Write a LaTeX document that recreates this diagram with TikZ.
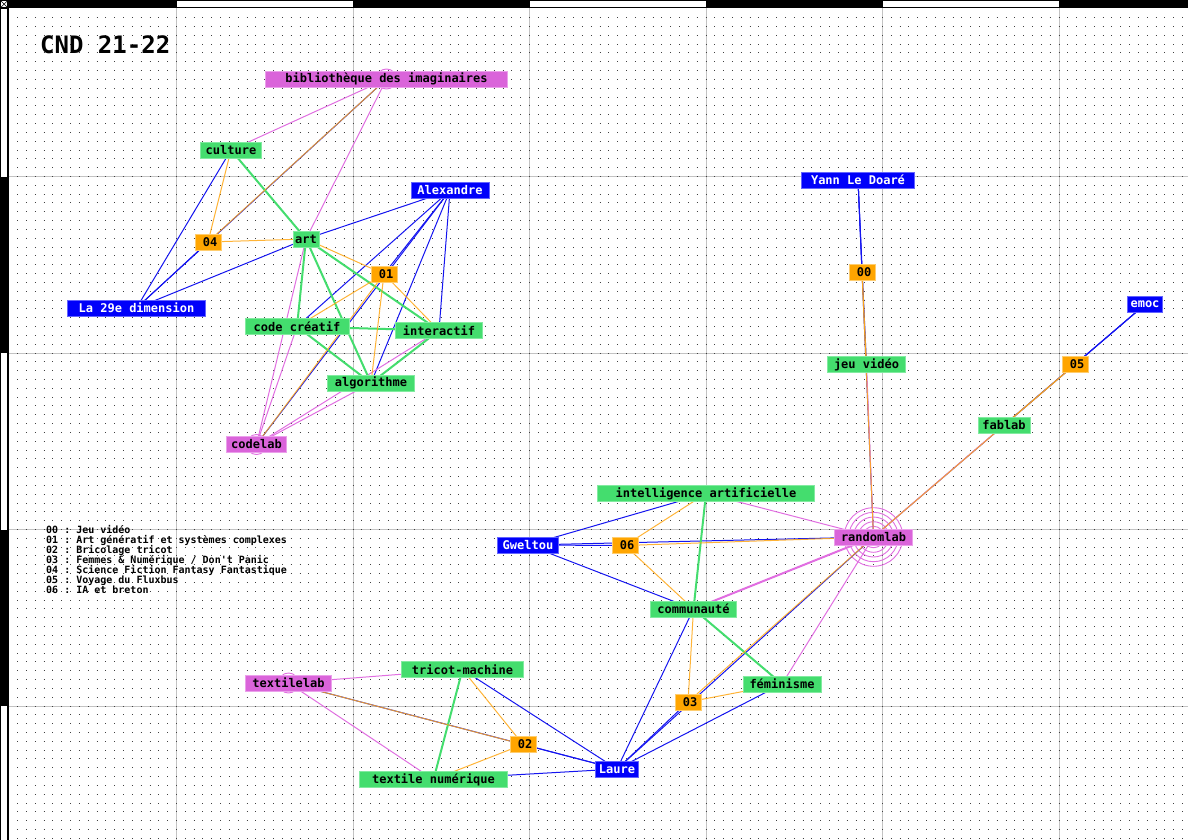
\documentclass[tikz,border=0pt]{standalone}
\usepackage{fontspec}
\setmonofont{DejaVu Sans Mono}
\definecolor{kwgreen}{RGB}{68,221,110}
\definecolor{kwgreenL}{RGB}{130,235,160}
\definecolor{pblue}{RGB}{0,0,250}
\definecolor{pblueL}{RGB}{100,100,255}
\definecolor{lmag}{RGB}{218,100,218}
\definecolor{lmagL}{RGB}{235,160,235}
\definecolor{eorange}{RGB}{255,165,0}
\definecolor{eorangeL}{RGB}{255,205,110}
\definecolor{eblue}{RGB}{20,20,240}
\definecolor{emag}{RGB}{225,110,225}
\definecolor{eorg}{RGB}{255,168,20}
\definecolor{gridgray}{RGB}{195,195,195}
\pgfdeclarelayer{grid}
\pgfdeclarelayer{edges}
\pgfsetlayers{grid,edges,main}
\newcommand{\evlabel}[1]{\hspace*{4pt}#1}
\tikzset{
  lab/.style={font=\ttfamily\bfseries\fontsize{12}{14}\selectfont, inner sep=0pt,
    minimum height=16pt, minimum width=#1*8.67pt, line width=0.8pt},
  kw/.style={lab=#1, fill=kwgreen, draw=kwgreenL, text=black},
  pers/.style={lab=#1, fill=pblue, draw=pblueL, text=white},
  lieu/.style={lab=#1, fill=lmag, draw=lmagL, text=black},
  evt/.style={lab=3, fill=eorange, draw=eorangeL, text=black},
  pe/.style={draw=eblue, line width=1pt},
  le/.style={draw=emag, line width=1pt},
  ke/.style={draw=kwgreen, line width=2pt},
  ee/.style={draw=eorg, line width=1pt, opacity=0.85},
  ring/.style={draw=emag, line width=0.9pt},
  dotrow/.style={draw=black!75, line width=1pt, dash pattern=on 1pt off 7.825pt},
  legend/.style={font=\ttfamily\bfseries\fontsize{10}{10}\selectfont, inner sep=0pt, anchor=base west},
}
\begin{document}
\begin{tikzpicture}[x=1pt,y=-1pt]
\useasboundingbox (0,0) rectangle (1188,840);

% ---------- sheet: grid, dots, rulers ----------
\begin{pgfonlayer}{grid}
\fill[white] (0,0) rectangle (1188,840);
\foreach \g in {1,...,6}
  \draw[gridgray, line width=1pt] ({\g*176.5},8) -- ({\g*176.5},840);
\foreach \g in {1,...,4}
  \draw[gridgray, line width=1pt] (8,{\g*176.5}) -- (1188,{\g*176.5});
\foreach \k in {2,...,95}
  \draw[dotrow] (17.15,{\k*8.825}) -- (1188,{\k*8.825});
% rulers
\fill[black] (0,0) rectangle (1188,8.5);
\fill[black] (0,0) rectangle (8.5,840);
\foreach \a/\b in {176.5/353,529.5/706,882.5/1059}
  \fill[white] (\a,1) rectangle (\b,7.3);
\foreach \a/\b in {9.5/176.5,353/529.5,706/841}
  \fill[white] (1,\a) rectangle (7.3,\b);
\fill[white] (1,1) rectangle (7.3,7.3);
\draw[black, line width=0.5pt] (1,1) -- (7.3,7.3) (1,7.3) -- (7.3,1);
\end{pgfonlayer}

% ---------- title and legend ----------
\node[font=\ttfamily\bfseries\fontsize{24}{26}\selectfont, inner sep=0pt, anchor=base west] (title) at (40,54) {CND 21-22};
\node[legend] (leg0) at (46,533.5) {00 : Jeu vidéo};
\node[legend] (leg1) at (46,543.5) {01 : Art génératif et systèmes complexes};
\node[legend] (leg2) at (46,553.5) {02 : Bricolage tricot};
\node[legend] (leg3) at (46,563.5) {03 : Femmes \& Numérique / Don't Panic};
\node[legend] (leg4) at (46,573.5) {04 : Science Fiction Fantasy Fantastique};
\node[legend] (leg5) at (46,583.5) {05 : Voyage du Fluxbus};
\node[legend] (leg6) at (46,593.5) {06 : IA et breton};

% ---------- nodes ----------
\node[lieu=28] (bib) at (386.5,79) {bibliothèque des imaginaires};
\node[kw=7] (culture) at (231,150) {culture};
\node[pers=9] (alex) at (450,190.5) {Alexandre};
\node[pers=13] (yann) at (858,180) {Yann Le Doaré};
\node[kw=3] (art) at (306,239) {art};
\node[evt] (e04) at (208,242) {\evlabel{04}};
\node[evt] (e01) at (384,274) {\evlabel{01}};
\node[pers=16] (la29) at (136.5,308) {La 29e dimension};
\node[kw=12] (codecr) at (297,326.5) {code créatif};
\node[kw=10] (inter) at (439,330.5) {interactif};
\node[kw=10] (algo) at (371,383) {algorithme};
\node[lieu=7] (codelab) at (256.5,444.5) {codelab};
\node[evt] (e00) at (862,272) {\evlabel{00}};
\node[pers=4] (emoc) at (1145,304.5) {emoc};
\node[kw=9] (jeu) at (866.5,364.5) {jeu vidéo};
\node[evt] (e05) at (1075,364.5) {\evlabel{05}};
\node[kw=6] (fablab) at (1004,425) {fablab};
\node[kw=25] (ia) at (706,493.5) {intelligence artificielle};
\node[pers=7] (gwel) at (528,545) {Gweltou};
\node[evt] (e06) at (625,545.5) {\evlabel{06}};
\node[lieu=9] (random) at (873.5,537) {randomlab};
\node[kw=10] (commu) at (693.5,609) {communauté};
\node[kw=14] (tricot) at (462.5,669.5) {tricot-machine};
\node[lieu=10] (textilelab) at (288.5,683) {textilelab};
\node[evt] (e02) at (523,744.5) {\evlabel{02}};
\node[kw=17] (textnum) at (433.5,779.5) {textile numérique};
\node[pers=5] (laure) at (617,769) {Laure};
\node[kw=9] (femi) at (782,684) {féminisme};
\node[evt] (e03) at (688,702) {\evlabel{03}};

% ---------- connectors ----------
\begin{pgfonlayer}{edges}
% rings around the places
\draw[ring] (bib.center) circle[radius=10];
\draw[ring] (codelab.center) circle[radius=10];
\draw[ring] (textilelab.center) circle[radius=10];
\foreach \r in {10.7,15.3,20,24.7,29.3}
  \draw[ring] (random.center) circle[radius=\r];
% people
\foreach \a/\b in {yann/e00,yann/random,yann/jeu,
    emoc/e05,emoc/random,emoc/fablab,
    alex/e01,alex/codelab,alex/art,alex/codecr,alex/inter,alex/algo,
    la29/e04,la29/bib,la29/culture,la29/art,
    laure/e02,laure/textilelab,laure/tricot,laure/textnum,
    laure/e03,laure/random,laure/commu,laure/femi,
    gwel/e06,gwel/random,gwel/ia,gwel/commu}
  \draw[pe] (\a.center) -- (\b.center);
% places
\foreach \a/\b in {random/jeu,random/fablab,random/femi,random/ia,
    codelab/art,codelab/codecr,codelab/inter,codelab/algo,
    bib/culture,bib/art,textilelab/tricot,textilelab/textnum}
  \draw[le] (\a.center) -- (\b.center);
\draw[le, line width=2pt] (random.center) -- (commu.center);
% keywords
\foreach \a/\b in {culture/art,art/codecr,art/inter,art/algo,codecr/inter,
    codecr/algo,inter/algo,tricot/textnum,commu/femi,ia/commu}
  \draw[ke] (\a.center) -- (\b.center);
% events
\foreach \a/\b in {e00/random,e00/jeu,e05/random,e05/fablab,
    e01/codelab,e01/art,e01/codecr,e01/inter,e01/algo,
    e04/bib,e04/culture,e04/art,
    e02/textilelab,e02/tricot,e02/textnum,
    e03/random,e03/commu,e03/femi,
    e06/random,e06/ia,e06/commu}
  \draw[ee] (\a.center) -- (\b.center);
\end{pgfonlayer}
\end{tikzpicture}
\end{document}
